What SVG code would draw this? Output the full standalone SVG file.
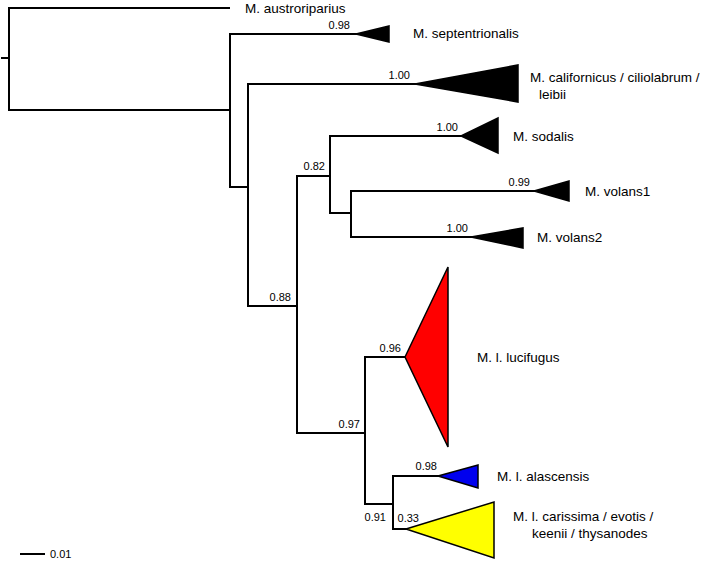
<svg xmlns="http://www.w3.org/2000/svg" width="704" height="562" viewBox="0 0 704 562">
<style>
.br{fill:none;stroke:#000;stroke-width:2;stroke-linecap:square}
.tri{stroke:#000;stroke-width:1.5;stroke-linejoin:miter}
.lab{font-family:"Liberation Sans",Arial,sans-serif;font-size:13.5px;fill:#000}
.bs{font-family:"Liberation Sans",Arial,sans-serif;font-size:11px;fill:#000}
</style>
<rect width="704" height="562" fill="#fff"/>
<g id="connectors">
<path class="br" d="M2,58H9M9,8V110M9,8H229M9,110H230"/>
<path class="br" d="M230,34V187M230,34H356M230,187H248"/>
<path class="br" d="M248,84V306M248,84H415M248,306H297"/>
<path class="br" d="M297,176V433M297,176H330M297,433H365"/>
<path class="br" d="M330,136V213M330,136H461M330,213H351"/>
<path class="br" d="M351,191V237M351,191H534M351,237H471"/>
<path class="br" d="M365,357V504M365,357H405M365,504H393"/>
<path class="br" d="M393,476V529M393,476H438M393,529H406"/>
</g>
<g id="n-austroriparius"><text class="lab" x="245" y="13">M. austroriparius</text></g>
<g id="n-septentrionalis">
<polygon class="tri" fill="#000" points="356,34 389,26 389,42"/>
<text class="bs" x="350" y="29" text-anchor="end">0.98</text>
<text class="lab" x="413" y="38">M. septentrionalis</text>
</g>
<g id="n-californicus">
<polygon class="tri" fill="#000" points="415,84 518,65 518,102"/>
<text class="bs" x="410" y="79" text-anchor="end">1.00</text>
<text class="lab" x="530" y="82">M. californicus / ciliolabrum /</text>
<text class="lab" x="539" y="99">leibii</text>
</g>
<g id="n-sodalis">
<polygon class="tri" fill="#000" points="461,136 498,118 498,153"/>
<text class="bs" x="458" y="131" text-anchor="end">1.00</text>
<text class="lab" x="513" y="141">M. sodalis</text>
</g>
<g id="n-volans1">
<polygon class="tri" fill="#000" points="534,191 569,181 569,201"/>
<text class="bs" x="530" y="186" text-anchor="end">0.99</text>
<text class="lab" x="585" y="196">M. volans1</text>
</g>
<g id="n-volans2">
<polygon class="tri" fill="#000" points="471,237 523,228 523,248"/>
<text class="bs" x="468" y="232" text-anchor="end">1.00</text>
<text class="lab" x="537" y="242">M. volans2</text>
</g>
<g id="n-082"><text class="bs" x="325" y="170" text-anchor="end">0.82</text></g>
<g id="n-088"><text class="bs" x="291" y="301" text-anchor="end">0.88</text></g>
<g id="n-097"><text class="bs" x="360" y="428" text-anchor="end">0.97</text></g>
<g id="n-lucifugus">
<polygon class="tri" fill="#ff0000" points="405,357 448,267 448,447"/>
<text class="bs" x="401" y="352" text-anchor="end">0.96</text>
<text class="lab" x="477" y="362">M. l. lucifugus</text>
</g>
<g id="n-091"><text class="bs" x="386" y="521" text-anchor="end">0.91</text></g>
<g id="n-alascensis">
<polygon class="tri" fill="#0000ee" points="438,476 478,465 478,488"/>
<text class="bs" x="437" y="470" text-anchor="end">0.98</text>
<text class="lab" x="497" y="481">M. l. alascensis</text>
</g>
<g id="n-carissima">
<polygon class="tri" fill="#ffff00" points="406,529 494,502 494,558"/>
<text class="bs" x="419" y="522" text-anchor="end">0.33</text>
<text class="lab" x="513" y="521">M. l. carissima / evotis /</text>
<text class="lab" x="532" y="538">keenii / thysanodes</text>
</g>
<g id="scale">
<path class="br" d="M21,554H44"/>
<text class="bs" x="50" y="558">0.01</text>
</g>
</svg>
